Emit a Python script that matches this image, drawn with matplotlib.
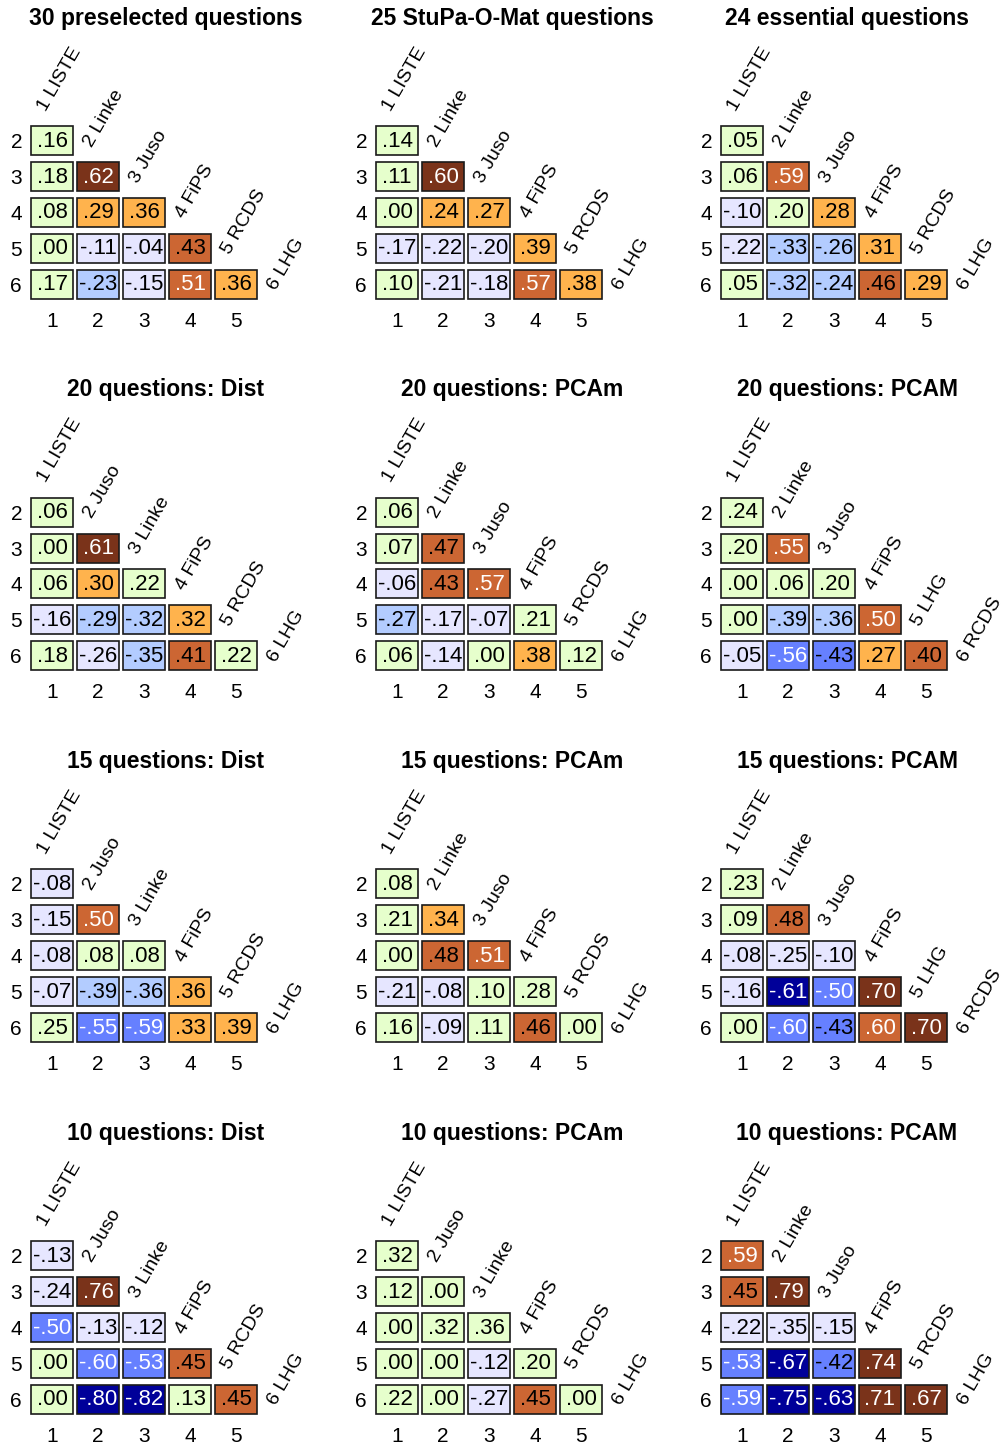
import matplotlib
matplotlib.use("Agg")
import matplotlib.pyplot as plt
from matplotlib.patches import Rectangle

plt.rcParams['font.family'] = ['Liberation Sans', 'DejaVu Sans']

# panel titles, party labels, lower-triangle values (row 2..6) and colour level
titles = [
    "30 preselected questions", "25 StuPa-O-Mat questions", "24 essential questions",
    "20 questions: Dist", "20 questions: PCAm", "20 questions: PCAM",
    "15 questions: Dist", "15 questions: PCAm", "15 questions: PCAM",
    "10 questions: Dist", "10 questions: PCAm", "10 questions: PCAM",
]

parties_a = ["1 LISTE", "2 Linke", "3 Juso", "4 FiPS", "5 RCDS", "6 LHG"]
parties_b = ["1 LISTE", "2 Juso", "3 Linke", "4 FiPS", "5 RCDS", "6 LHG"]
parties_c = ["1 LISTE", "2 Linke", "3 Juso", "4 FiPS", "5 LHG", "6 RCDS"]
parties = [parties_a, parties_a, parties_a,
           parties_b, parties_a, parties_c,
           parties_b, parties_a, parties_c,
           parties_b, parties_b, parties_a]

values = [
    [.16, .18, .62, .08, .29, .36, .00, -.11, -.04, .43, .17, -.23, -.15, .51, .36],
    [.14, .11, .60, .00, .24, .27, -.17, -.22, -.20, .39, .10, -.21, -.18, .57, .38],
    [.05, .06, .59, -.10, .20, .28, -.22, -.33, -.26, .31, .05, -.32, -.24, .46, .29],
    [.06, .00, .61, .06, .30, .22, -.16, -.29, -.32, .32, .18, -.26, -.35, .41, .22],
    [.06, .07, .47, -.06, .43, .57, -.27, -.17, -.07, .21, .06, -.14, .00, .38, .12],
    [.24, .20, .55, .00, .06, .20, .00, -.39, -.36, .50, -.05, -.56, -.43, .27, .40],
    [-.08, -.15, .50, -.08, .08, .08, -.07, -.39, -.36, .36, .25, -.55, -.59, .33, .39],
    [.08, .21, .34, .00, .48, .51, -.21, -.08, .10, .28, .16, -.09, .11, .46, .00],
    [.23, .09, .48, -.08, -.25, -.10, -.16, -.61, -.50, .70, .00, -.60, -.43, .60, .70],
    [-.13, -.24, .76, -.50, -.13, -.12, .00, -.60, -.53, .45, .00, -.80, -.82, .13, .45],
    [.32, .12, .00, .00, .32, .36, .00, .00, -.12, .20, .22, .00, -.27, .45, .00],
    [.59, .45, .79, -.22, -.35, -.15, -.53, -.67, -.42, .74, -.59, -.75, -.63, .71, .67],
]

levels = [
    [0, 0, 3, 0, 1, 1, 0, 0, 0, 2, 0, -1, 0, 2, 1],
    [0, 0, 3, 0, 1, 1, 0, 0, 0, 1, 0, 0, 0, 2, 1],
    [0, 0, 2, 0, 0, 1, 0, -1, -1, 1, 0, -1, -1, 2, 1],
    [0, 0, 3, 0, 1, 0, 0, -1, -1, 1, 0, 0, -1, 2, 0],
    [0, 0, 2, 0, 2, 2, -1, 0, 0, 0, 0, 0, 0, 1, 0],
    [0, 0, 2, 0, 0, 0, 0, -1, -1, 2, 0, -2, -2, 1, 2],
    [0, 0, 2, 0, 0, 0, 0, -1, -1, 1, 0, -2, -2, 1, 1],
    [0, 0, 1, 0, 2, 2, 0, 0, 0, 0, 0, 0, 0, 2, 0],
    [0, 0, 2, 0, 0, 0, 0, -3, -2, 3, 0, -2, -2, 2, 3],
    [0, 0, 3, -2, 0, 0, 0, -2, -2, 2, 0, -3, -3, 0, 2],
    [0, 0, 0, 0, 0, 0, 0, 0, 0, 0, 0, 0, 0, 2, 0],
    [2, 2, 3, 0, 0, 0, -2, -3, -2, 3, -2, -3, -3, 3, 3],
]

level_colors = {3: "#7a331a", 2: "#cc6633", 1: "#ffb34d",
                -1: "#b3ccff", -2: "#6680ff", -3: "#000099"}


def cell_color(v, lev):
    if lev == 0:
        return "#e6ffcc" if v >= 0 else "#e6e6ff"
    return level_colors[lev]


def fmt(v):
    s = "%.2f" % v
    return s.replace("0.", ".")


W, H = 1005, 1447
fig = plt.figure(figsize=(W / 100, H / 100), dpi=100)

title_x = [166, 512, 847]
pitch_y = 371.7

for p in range(12):
    r, c = divmod(p, 3)
    x0 = 29 + 345 * c
    y0 = 122.5 + pitch_y * r
    ax = fig.add_axes([x0 / W, 1 - (y0 + 179.5) / H, 230 / W, 179.5 / H])
    ax.set_xlim(0.5, 5.5)
    ax.set_ylim(6.5, 1.5)
    for s in ax.spines.values():
        s.set_visible(False)
    ax.set_xticks(range(1, 6))
    ax.set_yticks(range(2, 7))
    ax.set_xticklabels([str(i) for i in range(1, 6)], fontsize=15)
    ax.set_yticklabels([str(i) for i in range(2, 7)], fontsize=15)
    ax.tick_params(length=0)
    ax.tick_params(axis='y', pad=5)
    ax.tick_params(axis='x', pad=7)

    k = 0
    for row in range(2, 7):
        for col in range(1, row):
            v = values[p][k]
            lev = levels[p][k]
            k += 1
            ax.add_patch(Rectangle((col - 0.455, row - 0.405), 0.91, 0.81,
                                   facecolor=cell_color(v, lev), edgecolor="#1a1a1a",
                                   lw=1.2, clip_on=False))
            ax.text(col, row + 0.02, fmt(v), ha='center', va='center', fontsize=16,
                    color='white' if abs(v) >= 0.5 else 'black')

    for i, name in enumerate(parties[p]):
        kk = i + 1
        ax.text(kk - 0.13, kk + 0.2, name, rotation=60, rotation_mode='anchor',
                ha='left', va='baseline', fontsize=14, clip_on=False)

    fig.text(title_x[c] / W, 1 - (18 + pitch_y * r) / H, titles[p], ha='center',
             va='center', fontsize=16.5, fontweight='bold')

fig.savefig("out.png", dpi=100, facecolor='white')
